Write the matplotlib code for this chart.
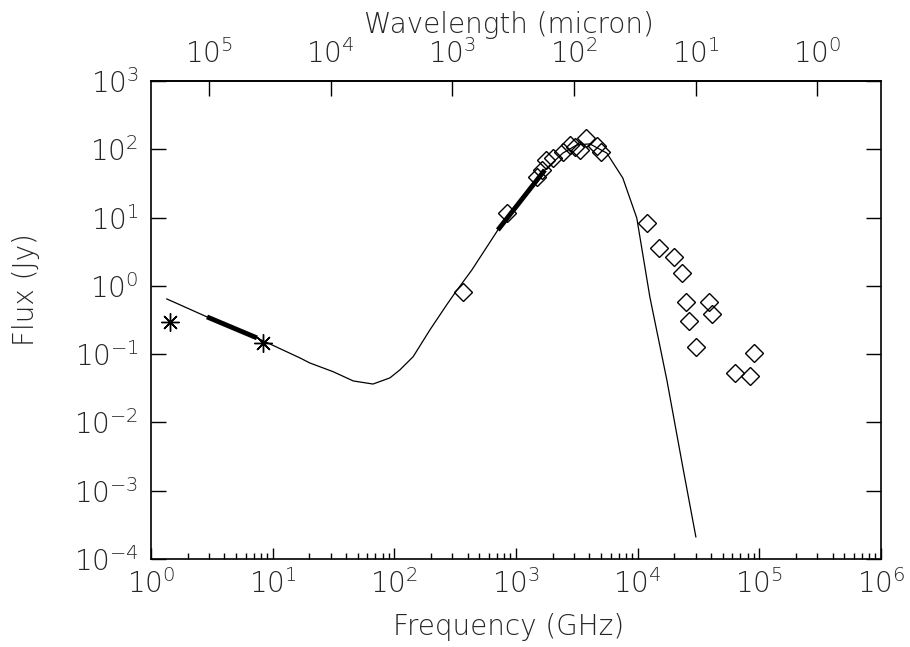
import matplotlib  # nopep8
matplotlib.use('Agg')  # nopep8
import numpy as np
import matplotlib.pyplot as plt
from matplotlib.ticker import LogLocator, NullLocator, FuncFormatter

# model SED (GHz, Jy)
model_nu = [1.35, 2.89, 7.43, 16.8, 20.2, 31.3, 46.0, 66.8, 92.0, 111, 143,
            196, 269, 315, 434, 710, 1727, 2430, 3165, 4047, 5580, 7550,
            9840, 12600, 17380, 23500, 30100]
model_flux = [0.643, 0.351, 0.173, 0.0879, 0.0743, 0.0555, 0.0405, 0.0365,
              0.0449, 0.0587, 0.092, 0.226, 0.525, 0.787, 1.71, 6.58, 49.8,
              88, 116, 120, 88, 38, 9.86, 0.688, 0.0419, 2.23e-3, 2.11e-4]

# thick pieces (fitted ranges)
radio_fit_nu = [2.89, 7.43]
radio_fit_flux = [0.351, 0.173]
submm_fit_nu = [710, 1727]
submm_fit_flux = [6.58, 49.8]

# radio points (asterisks)
radio_nu = [1.43, 8.32]
radio_flux = [0.299, 0.146]

# IR / submm points (diamonds)
ir_nu = [368, 842, 1485, 1633, 1762, 2010, 2427, 2772, 3048, 3352, 3752,
         4620, 4990, 11900, 14930, 19820, 23060, 24880, 26360, 30090,
         38460, 40740, 62920, 83580, 90150]
ir_flux = [0.822, 11.7, 39.3, 49.8, 69.7, 74.6, 91.3, 116, 108, 97.7, 146,
           112, 91.3, 8.34, 3.59, 2.65, 1.55, 0.581, 0.306, 0.127,
           0.581, 0.388, 0.0531, 0.048, 0.104]

x_ticks = [1, 10, 100, 1e3, 1e4, 1e5, 1e6]
y_ticks = [1e-4, 1e-3, 1e-2, 1e-1, 1, 10, 100, 1e3]
lam_ticks = [1e5, 1e4, 1e3, 1e2, 10, 1]

txt = '#262626'
plt.rcParams['font.family'] = ['DejaVu Sans']
plt.rcParams['font.weight'] = 200
plt.rcParams['mathtext.fontset'] = 'custom'
plt.rcParams['mathtext.rm'] = 'DejaVu Sans:light'
plt.rcParams['mathtext.it'] = 'DejaVu Sans:light'
plt.rcParams['mathtext.bf'] = 'DejaVu Sans:light'
plt.rcParams['text.color'] = txt
plt.rcParams['axes.labelcolor'] = txt
plt.rcParams['xtick.labelcolor'] = txt
plt.rcParams['ytick.labelcolor'] = txt

fig = plt.figure(figsize=(9.1, 6.47), dpi=100)
ax = fig.add_axes([0.1659, 0.136, 0.8022, 0.7388])

ax.plot(model_nu, model_flux, color='k', lw=0.9)
ax.plot(radio_fit_nu, radio_fit_flux, color='k', lw=3.5, solid_capstyle='butt')
ax.plot(submm_fit_nu, submm_fit_flux, color='k', lw=3.5, solid_capstyle='butt')
ax.plot(radio_nu, radio_flux, ls='none', marker=(8, 2, 0), ms=13,
        mec='k', mew=1)
ax.plot(ir_nu, ir_flux, ls='none', marker='D', ms=9, mfc='none',
        mec='k', mew=1)

ax.set_xscale('log')
ax.set_yscale('log')
ax.set_xlim(1, 1e6)
ax.set_ylim(1e-4, 1e3)


def pow_fmt(v, pos):
    return r'$10^{%d}$' % int(round(np.log10(v)))


ax.set_xticks(x_ticks)
ax.set_yticks(y_ticks)
ax.xaxis.set_major_formatter(FuncFormatter(pow_fmt))
ax.yaxis.set_major_formatter(FuncFormatter(pow_fmt))
ax.xaxis.set_minor_locator(LogLocator(base=10, subs=np.arange(2, 10), numticks=20))
ax.yaxis.set_minor_locator(NullLocator())
ax.tick_params(which='both', direction='in', top=False, right=True, width=1)
ax.tick_params(axis='x', which='major', length=8, pad=7, labelsize=20)
ax.tick_params(axis='x', which='minor', length=4)
ax.tick_params(axis='y', which='major', length=11, pad=9, labelsize=20)
for s in ax.spines.values():
    s.set_linewidth(1.2)


def nu2lam(nu):
    nu = np.asarray(nu, dtype=float)
    with np.errstate(divide='ignore'):
        return 3e5 / nu


sec = ax.secondary_xaxis('top', functions=(nu2lam, nu2lam))
sec.set_xticks(lam_ticks)
sec.xaxis.set_major_formatter(FuncFormatter(pow_fmt))
sec.xaxis.set_minor_locator(NullLocator())
sec.tick_params(direction='in', length=11, width=1, pad=9, labelsize=20)
sec.spines['top'].set_linewidth(1.2)

ax.set_xlabel('Frequency (GHz)', fontsize=20, fontweight=200)
ax.set_ylabel('Flux (Jy)', fontsize=20, fontweight=200)
sec.set_xlabel('Wavelength (micron)', fontsize=20, fontweight=200)
ax.xaxis.set_label_coords(0.49, -0.113)
ax.yaxis.set_label_coords(-0.152, 0.563)
sec.xaxis.set_label_coords(0.49, 1.10, transform=ax.transAxes)

fig.savefig('out.png', dpi=100)
